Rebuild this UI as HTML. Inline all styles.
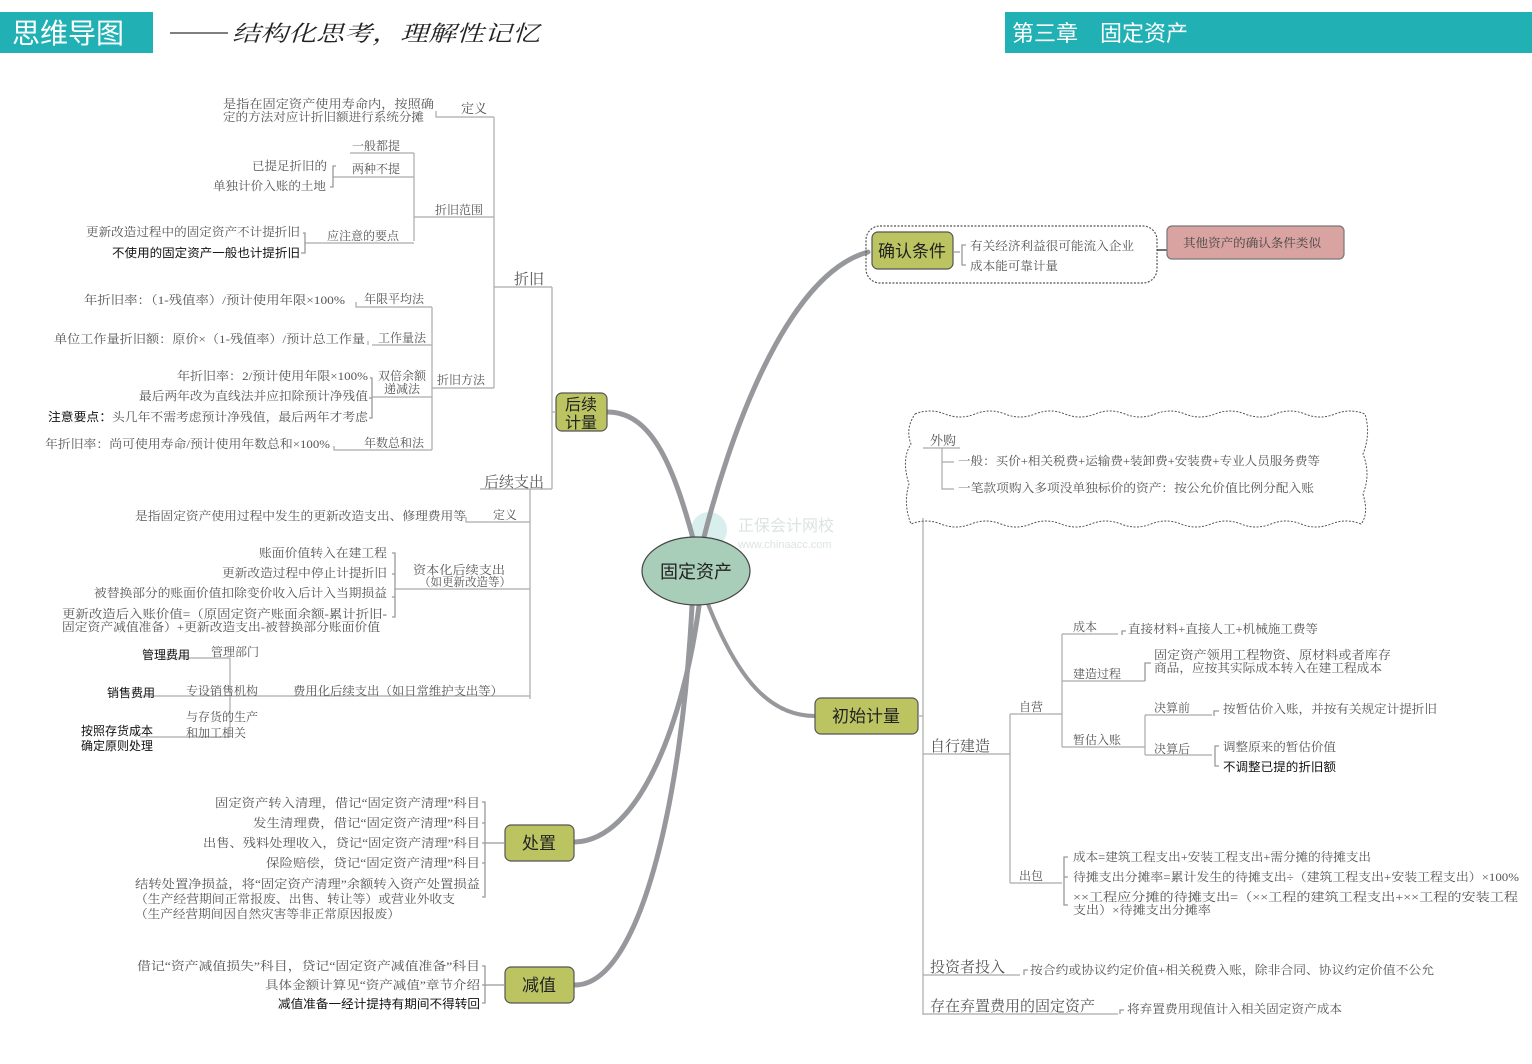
<!DOCTYPE html>
<html><head><meta charset="utf-8"><style>
html,body{margin:0;padding:0;background:#fff;}
svg{display:block;}
text{font-family:"Liberation Serif","Noto Serif CJK SC",serif;fill:#555;font-size:12px;}
.s{font-family:"Liberation Sans","Noto Sans CJK SC",sans-serif;}
.b{fill:#111;font-family:"Liberation Sans","Noto Sans CJK SC",sans-serif;}
.m{font-size:13px;}
.l{font-size:15px;}
.n{font-family:"Liberation Sans","Noto Sans CJK SC",sans-serif;font-size:17px;fill:#222;}
.ln{stroke:#aaa;stroke-width:1.2;fill:none;}
.br{stroke:#999;stroke-width:1.3;fill:none;}
.node{fill:#bcc462;stroke:#555;stroke-width:1.2;}
</style></head><body>
<svg width="1532" height="1064" viewBox="0 0 1532 1064" xmlns="http://www.w3.org/2000/svg">
<!-- header -->
<rect x="0" y="12" width="153" height="41" fill="#21b1b5"/>
<text x="12" y="43" class="s" style="font-size:28px;fill:#fff">思维导图</text>
<line x1="170" y1="33" x2="228" y2="33" stroke="#555" stroke-width="1.5"/>
<text x="232" y="41" textLength="308" lengthAdjust="spacingAndGlyphs" style="font-size:22px;fill:#222;font-style:italic">结构化思考，理解性记忆</text>
<rect x="1005" y="12" width="527" height="41" fill="#21b1b5"/>
<text x="1012" y="41" class="s" style="font-size:22px;fill:#fff">第三章　固定资产</text>

<!-- watermark -->
<circle cx="709" cy="530" r="18" fill="#d8efee"/>
<text x="738" y="531" class="s" style="font-size:16px;fill:#dde3e3">正保会计网校</text>
<text x="738" y="548" class="s" style="font-size:11px;fill:#dde3e3">www.chinaacc.com</text>

<!-- main branches -->
<g stroke="#97989c" fill="none" stroke-linecap="round">
<path d="M702,545 C728,440 785,275 868,252" stroke-width="5"/>
<path d="M694,542 C672,460 650,412 607,412" stroke-width="5"/>
<path d="M708,604 C738,680 770,716 815,716" stroke-width="4"/>
<path d="M699,606 C684,720 640,840 575,842" stroke-width="5"/>
<path d="M692,606 C682,800 640,985 575,985" stroke-width="5"/>
</g>

<!-- center -->
<ellipse cx="696" cy="571" rx="54" ry="34" fill="#a8cdb8" stroke="#444" stroke-width="1.2"/>
<text x="696" y="578" text-anchor="middle" class="n" style="font-size:18px">固定资产</text>

<!-- nodes -->
<rect x="556" y="393" width="51" height="38" rx="6" class="node"/>
<text x="581" y="410" text-anchor="middle" class="n" style="font-size:16px">后续</text>
<text x="581" y="428" text-anchor="middle" class="n" style="font-size:16px">计量</text>
<rect x="815" y="698" width="103" height="36" rx="6" class="node"/>
<text x="866" y="722" text-anchor="middle" class="n">初始计量</text>
<rect x="505" y="825" width="69" height="36" rx="6" class="node"/>
<text x="539" y="849" text-anchor="middle" class="n">处置</text>
<rect x="505" y="967" width="69" height="36" rx="6" class="node"/>
<text x="539" y="991" text-anchor="middle" class="n">减值</text>

<!-- ============ LEFT: 后续计量 ============ -->
<g class="ln">
<path d="M494,117 V388"/>
<path d="M458,117 H494 M436,111 V117 H458"/>
<path d="M494,287 H552 M552,287 V489 M552,412 H556"/>
<path d="M480,489 H552 M530,489 V699"/>
<path d="M414,217 H494 M414,153 V241"/>
<path d="M350,153 H414"/>
<path d="M333,177 H414"/>
<path d="M305,243 H414"/>
<path d="M432,388 H494 M432,307 V450"/>
<path d="M364,307 H432 M356,302 V307 H364"/>
<path d="M372,345 H432 M368,341 V345"/>
<path d="M372,397 H432"/>
<path d="M340,450 H432 M334,446 V450 H340"/>
<path d="M470,522 H530 M466,517 V522 H470"/>
<path d="M395,589 H530"/>
<path d="M168,658 H230 M164,654 V658 H168 M230,658 V737"/>
<path d="M140,696 H530 M136,692 V696"/>
<path d="M140,737 H230 M136,732 V737"/>
</g>
<g class="br">
<path d="M336,166 H333 V187 H330"/>
<path d="M303,233 H305 V253 H301"/>
<path d="M370,378 H372 V418 H369 M369,398 H372"/>
<path d="M392,553 H395 V617 H392 M392,574 H395 M392,597 H395"/>
<path d="M482,802 H485 V897 H482 M482,823 H485 M482,843 H505 M482,863 H485"/>
<path d="M482,966 H485 V1003 H482 M482,985 H505"/>
</g>

<text x="223" y="108" textLength="211" lengthAdjust="spacingAndGlyphs">是指在固定资产使用寿命内，按照确</text>
<text x="223" y="121" textLength="201" lengthAdjust="spacingAndGlyphs">定的方法对应计折旧额进行系统分摊</text>
<text x="461" y="113" class="m">定义</text>
<text x="352" y="150">一般都提</text>
<text x="352" y="173">两种不提</text>
<text x="252" y="170" textLength="75" lengthAdjust="spacingAndGlyphs">已提足折旧的</text>
<text x="213" y="190" textLength="113" lengthAdjust="spacingAndGlyphs">单独计价入账的土地</text>
<text x="435" y="214">折旧范围</text>
<text x="327" y="240">应注意的要点</text>
<text x="86" y="236" textLength="214" lengthAdjust="spacingAndGlyphs">更新改造过程中的固定资产不计提折旧</text>
<text x="112" y="257" textLength="188" lengthAdjust="spacingAndGlyphs" class="b">不使用的固定资产一般也计提折旧</text>
<text x="514" y="284" class="l">折旧</text>
<text x="84" y="304" textLength="261" lengthAdjust="spacingAndGlyphs">年折旧率：（1-残值率）/预计使用年限×100%</text>
<text x="364" y="303">年限平均法</text>
<text x="54" y="343" textLength="311" lengthAdjust="spacingAndGlyphs">单位工作量折旧额：原价×（1-残值率）/预计总工作量</text>
<text x="378" y="342">工作量法</text>
<text x="177" y="380" textLength="191" lengthAdjust="spacingAndGlyphs">年折旧率：2/预计使用年限×100%</text>
<text x="139" y="400" textLength="229" lengthAdjust="spacingAndGlyphs">最后两年改为直线法并应扣除预计净残值</text>
<text x="48" y="421" textLength="320" lengthAdjust="spacingAndGlyphs"><tspan class="b">注意要点：</tspan>头几年不需考虑预计净残值，最后两年才考虑</text>
<text x="378" y="380">双倍余额</text>
<text x="384" y="393">递减法</text>
<text x="437" y="384">折旧方法</text>
<text x="45" y="448" textLength="285" lengthAdjust="spacingAndGlyphs">年折旧率：尚可使用寿命/预计使用年数总和×100%</text>
<text x="364" y="447">年数总和法</text>
<text x="484" y="487" class="l">后续支出</text>
<text x="135" y="520" textLength="331" lengthAdjust="spacingAndGlyphs">是指固定资产使用过程中发生的更新改造支出、修理费用等</text>
<text x="493" y="519">定义</text>
<text x="259" y="557" textLength="128" lengthAdjust="spacingAndGlyphs">账面价值转入在建工程</text>
<text x="222" y="577" textLength="165" lengthAdjust="spacingAndGlyphs">更新改造过程中停止计提折旧</text>
<text x="94" y="597" textLength="293" lengthAdjust="spacingAndGlyphs">被替换部分的账面价值扣除变价收入后计入当期损益</text>
<text x="62" y="618" textLength="325" lengthAdjust="spacingAndGlyphs">更新改造后入账价值=（原固定资产账面余额-累计折旧-</text>
<text x="62" y="631" textLength="318" lengthAdjust="spacingAndGlyphs">固定资产减值准备）+更新改造支出-被替换部分账面价值</text>
<text x="413" y="574" textLength="92" lengthAdjust="spacingAndGlyphs">资本化后续支出</text>
<text x="419" y="586" textLength="92" lengthAdjust="spacingAndGlyphs">（如更新改造等）</text>
<text x="190" y="659" text-anchor="end" class="b">管理费用</text>
<text x="211" y="656">管理部门</text>
<text x="155" y="697" text-anchor="end" class="b">销售费用</text>
<text x="186" y="695">专设销售机构</text>
<text x="293" y="695" textLength="210" lengthAdjust="spacingAndGlyphs">费用化后续支出（如日常维护支出等）</text>
<text x="186" y="721">与存货的生产</text>
<text x="186" y="737">和加工相关</text>
<text x="153" y="735" text-anchor="end" class="b">按照存货成本</text>
<text x="153" y="750" text-anchor="end" class="b">确定原则处理</text>

<!-- 处置 -->
<text x="215" y="807" textLength="265" lengthAdjust="spacingAndGlyphs">固定资产转入清理，借记“固定资产清理”科目</text>
<text x="253" y="827" textLength="227" lengthAdjust="spacingAndGlyphs">发生清理费，借记“固定资产清理”科目</text>
<text x="203" y="847" textLength="277" lengthAdjust="spacingAndGlyphs">出售、残料处理收入，贷记“固定资产清理”科目</text>
<text x="266" y="867" textLength="214" lengthAdjust="spacingAndGlyphs">保险赔偿，贷记“固定资产清理”科目</text>
<text x="135" y="888" textLength="345" lengthAdjust="spacingAndGlyphs">结转处置净损益，将“固定资产清理”余额转入资产处置损益</text>
<text x="135" y="903" textLength="320" lengthAdjust="spacingAndGlyphs">（生产经营期间正常报废、出售、转让等）或营业外收支</text>
<text x="135" y="918" textLength="265" lengthAdjust="spacingAndGlyphs">（生产经营期间因自然灾害等非正常原因报废）</text>
<!-- 减值 -->
<text x="137" y="970" textLength="343" lengthAdjust="spacingAndGlyphs">借记“资产减值损失”科目，贷记“固定资产减值准备”科目</text>
<text x="265" y="989" textLength="215" lengthAdjust="spacingAndGlyphs">具体金额计算见“资产减值”章节介绍</text>
<text x="278" y="1008" textLength="202" lengthAdjust="spacingAndGlyphs" class="b">减值准备一经计提持有期间不得转回</text>

<!-- ============ RIGHT ============ -->
<rect x="866" y="226" width="291" height="57" rx="14" fill="none" stroke="#555" stroke-width="1.2" stroke-dasharray="2,1.5"/>
<rect x="872" y="232" width="81" height="37" rx="6" class="node"/>
<text x="912" y="257" text-anchor="middle" class="n">确认条件</text>
<path d="M953,252 H960 M966,245 H962 V265 H966" class="br"/>
<text x="970" y="250" textLength="164" lengthAdjust="spacingAndGlyphs">有关经济利益很可能流入企业</text>
<text x="970" y="270" textLength="88" lengthAdjust="spacingAndGlyphs">成本能可靠计量</text>
<path d="M1157,250 H1167" stroke="#444" stroke-width="1.5"/>
<rect x="1167" y="226" width="177" height="33" rx="5" fill="#d8a3a0" stroke="#777" stroke-width="1.2"/>
<text x="1183" y="247" textLength="138" lengthAdjust="spacingAndGlyphs" style="fill:#444">其他资产的确认条件类似</text>

<!-- 初始计量 -->
<path d="M918,716 H923 M923,518 V1015" class="ln"/>
<path d="M915,414 q15,-6 30,0 t30,0 t30,0 t30,0 t30,0 t30,0 t30,0 t30,0 t30,0 t30,0 t30,0 t30,0 t30,0 t30,0 t30,0 q6,20 -2,40 q8,20 0,40 q6,20 -2,30 q-15,-6 -30,0 t-30,0 t-30,0 t-30,0 t-30,0 t-30,0 t-30,0 t-30,0 t-30,0 t-30,0 t-30,0 t-30,0 t-30,0 t-30,0 t-30,0 q-8,-20 -2,-40 q-8,-25 2,-40 q-6,-15 4,-30 z" fill="none" stroke="#555" stroke-width="1" stroke-dasharray="2,1.5"/>
<text x="930" y="445" class="m">外购</text>
<g class="ln">
<path d="M923,448 H960 M942,448 V489 H954 M942,462 H954"/>
<path d="M923,754 H1010 M1010,714 V883"/>
<path d="M1010,714 H1062 M1062,634 V747"/>
<path d="M1062,634 H1118 M1062,681 H1145 M1062,747 H1145"/>
<path d="M1145,715 V755 M1145,715 H1212 M1145,755 H1212"/>
<path d="M1010,883 H1062"/>
<path d="M923,975 H1020 M923,1014 H1118"/>
</g>
<g class="br">
<path d="M1122,635 V631 H1126"/>
<path d="M1145,681 V663 H1151"/>
<path d="M1214,716 V711 H1219"/>
<path d="M1219,746 H1215 V766 H1219"/>
<path d="M1068,857 H1064 V905 H1068 M1064,877 H1068"/>
<path d="M1024,975 V970 H1028"/>
<path d="M1120,1014 V1010 H1124"/>
</g>
<text x="958" y="465" textLength="362" lengthAdjust="spacingAndGlyphs">一般：买价+相关税费+运输费+装卸费+安装费+专业人员服务费等</text>
<text x="958" y="492" textLength="356" lengthAdjust="spacingAndGlyphs">一笔款项购入多项没单独标价的资产：按公允价值比例分配入账</text>
<text x="930" y="751" class="l">自行建造</text>
<text x="1019" y="711">自营</text>
<text x="1073" y="631">成本</text>
<text x="1128" y="633" textLength="190" lengthAdjust="spacingAndGlyphs">直接材料+直接人工+机械施工费等</text>
<text x="1073" y="678">建造过程</text>
<text x="1154" y="659" textLength="237" lengthAdjust="spacingAndGlyphs">固定资产领用工程物资、原材料或者库存</text>
<text x="1154" y="672" textLength="228" lengthAdjust="spacingAndGlyphs">商品，应按其实际成本转入在建工程成本</text>
<text x="1073" y="744">暂估入账</text>
<text x="1154" y="712">决算前</text>
<text x="1223" y="713" textLength="214" lengthAdjust="spacingAndGlyphs">按暂估价入账，并按有关规定计提折旧</text>
<text x="1154" y="753">决算后</text>
<text x="1223" y="751" textLength="113" lengthAdjust="spacingAndGlyphs">调整原来的暂估价值</text>
<text x="1223" y="771" textLength="113" lengthAdjust="spacingAndGlyphs" class="b">不调整已提的折旧额</text>
<text x="1019" y="880">出包</text>
<text x="1073" y="861" textLength="298" lengthAdjust="spacingAndGlyphs">成本=建筑工程支出+安装工程支出+需分摊的待摊支出</text>
<text x="1073" y="881" textLength="446" lengthAdjust="spacingAndGlyphs">待摊支出分摊率=累计发生的待摊支出÷（建筑工程支出+安装工程支出）×100%</text>
<text x="1073" y="901" textLength="445" lengthAdjust="spacingAndGlyphs">××工程应分摊的待摊支出=（××工程的建筑工程支出+××工程的安装工程</text>
<text x="1073" y="914" textLength="138" lengthAdjust="spacingAndGlyphs">支出）×待摊支出分摊率</text>
<text x="930" y="972" class="l">投资者投入</text>
<text x="1030" y="974" textLength="404" lengthAdjust="spacingAndGlyphs">按合约或协议约定价值+相关税费入账，除非合同、协议约定价值不公允</text>
<text x="930" y="1011" class="l">存在弃置费用的固定资产</text>
<text x="1127" y="1013" textLength="215" lengthAdjust="spacingAndGlyphs">将弃置费用现值计入相关固定资产成本</text>
</svg>
</body></html>
